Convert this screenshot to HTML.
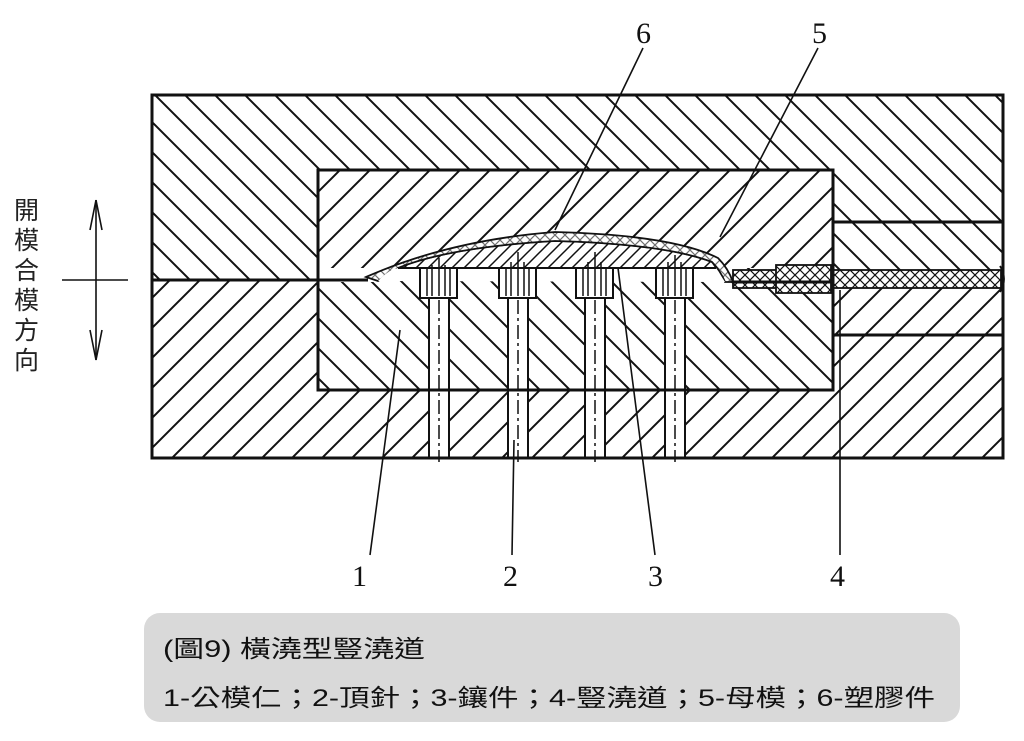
<!DOCTYPE html>
<html><head><meta charset="utf-8"><style>
html,body{margin:0;padding:0;background:#fff;}
svg{display:block;}
</style></head><body>
<svg width="1024" height="741" viewBox="0 0 1024 741" xmlns="http://www.w3.org/2000/svg">
<defs>
<pattern id="bs" patternUnits="userSpaceOnUse" width="30" height="30">
<path d="M-5,-5 L35,35 M-5,25 L5,35 M25,-5 L35,5" stroke="#111" stroke-width="2"/>
</pattern>
<pattern id="fs" patternUnits="userSpaceOnUse" width="30" height="30">
<path d="M-5,35 L35,-5 M-5,5 L5,-5 M25,35 L35,25" stroke="#111" stroke-width="2"/>
</pattern>
<pattern id="fine" patternUnits="userSpaceOnUse" width="12" height="12">
<path d="M-2,14 L14,-2 M-2,2 L2,-2 M10,14 L14,10" stroke="#111" stroke-width="1.5"/>
</pattern>
<pattern id="xh" patternUnits="userSpaceOnUse" width="10" height="10">
<path d="M0,0 L10,10 M0,10 L10,0" stroke="#111" stroke-width="1.2"/>
</pattern>
</defs>
<rect x="152" y="95" width="851" height="185" fill="url(#bs)"/>
<rect x="152" y="280" width="851" height="178" fill="url(#fs)"/>
<rect x="318" y="170" width="515" height="110" fill="#fff"/>
<rect x="318" y="170" width="515" height="110" fill="url(#fs)"/>
<rect x="318" y="268" width="515" height="122" fill="#fff"/>
<rect x="318" y="268" width="515" height="122" fill="url(#bs)"/>
<!-- insert fine hatch under part -->
<path d="M398,268 Q450,247 555,241 Q665,244 712,262 L716,268 Z" fill="#fff"/>
<path d="M398,268 Q450,247 555,241 Q665,244 712,262 L716,268 Z" fill="url(#fine)" stroke="#111" stroke-width="1.5"/>
<path d="M318,268 H398 L380,282 H318 Z" fill="#fff"/>
<path d="M318,280 H833 V282 H318 Z" fill="none"/>
<!-- part -->
<path d="M366,277 Q450,240 555,232 Q672,235 718,258 Q728,268 733,282 L725,282 Q720,270 712,262 Q665,244 555,241 Q450,247 398,268 L378,281 Z" fill="#fff" stroke="#111" stroke-width="1.8"/>
<path d="M366,277 Q450,240 555,232 Q672,235 718,258 Q728,268 733,282 L725,282 Q720,270 712,262 Q665,244 555,241 Q450,247 398,268 L378,281 Z" fill="url(#xh)" opacity="0.6"/>
<path d="M378,281 Q388,270 398,268 L716,268 L725,282 Z" fill="#fff" stroke="none"/>
<path d="M398,268 L716,268" stroke="#111" stroke-width="2"/>
<!-- runner -->
<rect x="733" y="270" width="268" height="18" fill="#fff" stroke="#111" stroke-width="1.8"/>
<rect x="733" y="270" width="268" height="18" fill="url(#xh)"/>
<rect x="776" y="265" width="55" height="28" fill="#fff" stroke="#111" stroke-width="1.8"/>
<rect x="776" y="265" width="55" height="28" fill="url(#xh)"/>
<path d="M1000,266 Q1008,279 1000,292" fill="none" stroke="#111" stroke-width="1.8"/>
<g stroke="#111" stroke-width="2" fill="#fff">
<rect x="429" y="298" width="20" height="160"/>
<rect x="508" y="298" width="20" height="160"/>
<rect x="585" y="298" width="20" height="160"/>
<rect x="665" y="298" width="20" height="160"/>
<rect x="420" y="268" width="37" height="30"/>
<rect x="499" y="268" width="37" height="30"/>
<rect x="576" y="268" width="37" height="30"/>
<rect x="656" y="268" width="37" height="30"/>
</g>
<g stroke="#111" stroke-width="1.5">
<path d="M427,268 V296 M432,265 V296 M439,258 V296 M445,265 V296 M450,268 V296"/>
<path d="M506,268 V296 M511,262 V296 M518,252 V296 M524,262 V296 M529,268 V296"/>
<path d="M583,268 V296 M588,262 V296 M595,252 V296 M601,262 V296 M606,268 V296"/>
<path d="M663,268 V296 M668,262 V296 M675,255 V296 M681,262 V296 M686,268 V296"/>
<path d="M439,300 V462 M518,300 V462 M595,300 V462 M675,300 V462" stroke-dasharray="14 4 3 4"/>
</g>
<g fill="none" stroke="#111" stroke-width="3">
<rect x="152" y="95" width="851" height="363"/>
<rect x="318" y="170" width="515" height="220"/>
<path d="M152,280 H368 M833,222 H1003 M833,335 H1003 M733,282 H833"/>
</g>
<g stroke="#111" stroke-width="1.6" fill="none">
<path d="M643,48 L555,230 M818,48 L720,237 M370,555 L400,330 M512,555 L514,440 M655,555 L618,268 M840,555 L840,290"/>
<path d="M96,200 V360 M62,280 H128"/>
<path d="M96,200 L90,230 M96,200 L102,230 M96,360 L90,330 M96,360 L102,330"/>
</g>
<g font-family="Liberation Serif, serif" font-size="30" fill="#111">
<text x="636" y="43">6</text>
<text x="812" y="43">5</text>
<text x="352" y="586">1</text>
<text x="503" y="586">2</text>
<text x="648" y="586">3</text>
<text x="830" y="586">4</text>
</g>
<g font-family="Liberation Sans, 'Noto Sans CJK TC', sans-serif" font-size="25" fill="#222">
<text x="14" y="219">開</text><text x="14" y="249">模</text><text x="14" y="279">合</text>
<text x="14" y="309">模</text><text x="14" y="339">方</text><text x="14" y="369">向</text>
</g>
<rect x="144" y="613" width="816" height="109" rx="16" fill="#d9d9d9"/>
<g font-family="Liberation Sans, 'Noto Sans CJK TC', sans-serif" font-size="24" fill="#111">
<text x="163" y="657" textLength="262" lengthAdjust="spacingAndGlyphs">(圖9)  橫澆型豎澆道</text>
<text x="163" y="706" textLength="772" lengthAdjust="spacingAndGlyphs">1-公模仁；2-頂針；3-鑲件；4-豎澆道；5-母模；6-塑膠件</text>
</g>
</svg>
</body></html>
